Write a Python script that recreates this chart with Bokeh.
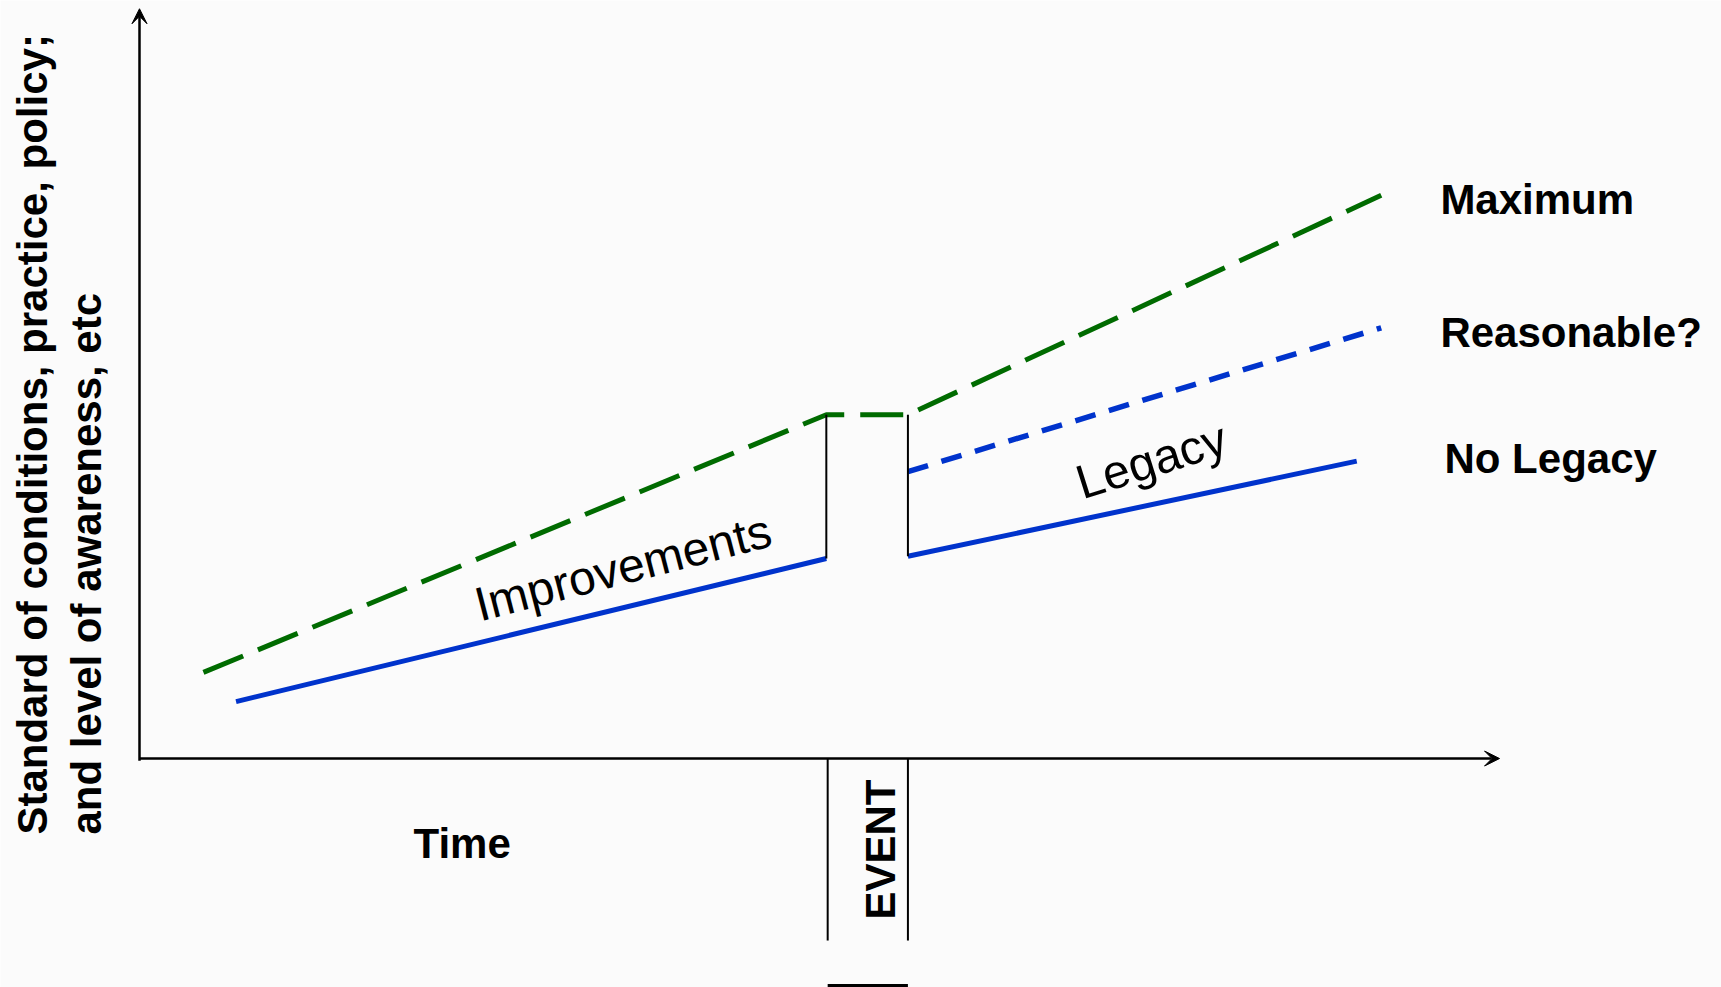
from bokeh.plotting import figure
from bokeh.models import Range1d, Arrow, VeeHead, ColumnDataSource
from bokeh.core.properties import value
from bokeh.embed import file_html
from bokeh.resources import INLINE
import math

# ---- data (Time 0..10, Level 0..10) ----
green_x = [0.47, 5.05, 5.65, 9.13]
green_y = [1.15, 4.59, 4.59, 7.52]

blue_left_x = [0.71, 5.05]
blue_left_y = [0.76, 2.67]

blue_right_x = [5.65, 8.95]
blue_right_y = [2.70, 3.97]

reason_x = [5.65, 9.13]
reason_y = [3.83, 5.75]

# drop lines at event (from green down to blue)
drop_x = [5.05, 5.65]
drop_top = [4.59, 4.59]
drop_bot = [2.67, 2.70]

# event marker below the time axis
event_x = [5.06, 5.65]
event_top = [0.0, 0.0]
event_bot = [-2.43, -2.43]
event_bar_y = [-3.03]

# axes
axis_x_start = [0.0, 0.0]
axis_y_start = [-0.03, 0.0]
axis_x_end = [0.0, 10.0]
axis_y_end = [10.01, 0.0]

end_labels = ["Maximum", "Reasonable?", "No Legacy"]
end_label_x = [9.565, 9.565, 9.595]
end_label_y = [7.463, 5.687, 4.005]

W, H = 1721, 987
BG = "#fbfbfb"

p = figure(width=W, height=H, output_backend="svg", toolbar_location=None,
           x_range=Range1d(-1.022, 11.632), y_range=Range1d(-3.057, 10.120),
           min_border=0, min_border_left=0, min_border_right=0,
           min_border_top=0, min_border_bottom=0,
           background_fill_color=BG, border_fill_color=BG)
p.xaxis.visible = False
p.yaxis.visible = False
p.grid.visible = False
p.outline_line_color = None

FONT = value("Liberation Sans")

# axes with arrow heads
axes_src = ColumnDataSource(dict(x0=axis_x_start, y0=axis_y_start, x1=axis_x_end, y1=axis_y_end))
p.add_layout(Arrow(end=VeeHead(size=15, fill_color="black", line_color="black", line_width=1),
                   x_start="x0", y_start="y0", x_end="x1", y_end="y1",
                   source=axes_src, line_color="black", line_width=2.5))

# green maximum line
p.line(green_x, green_y, line_color="#006b00", line_width=5, line_dash="43 16")

# blue no-legacy lines
p.line(blue_left_x, blue_left_y, line_color="#0033cc", line_width=5)
p.line(blue_right_x, blue_right_y, line_color="#0033cc", line_width=5)

# blue reasonable dashed line
p.line(reason_x, reason_y, line_color="#0033cc", line_width=5.5, line_dash="21 14")

# vertical drop lines
p.segment(x0=drop_x, y0=drop_top, x1=drop_x, y1=drop_bot, line_color="black", line_width=2)

# event marker
p.segment(x0=event_x, y0=event_top, x1=event_x, y1=event_bot, line_color="black", line_width=2)
p.segment(x0=[event_x[0]], y0=event_bar_y, x1=[event_x[1]], y1=event_bar_y,
          line_color="black", line_width=3)

# right-hand labels
p.text(x=end_label_x, y=end_label_y, text=end_labels, text_font=FONT,
       text_font_style="bold", text_font_size=value("42px"),
       text_align="left", text_baseline="alphabetic", text_color="black")

# Time label
p.text(x=[2.015], y=[-1.135], text=["Time"], text_font=FONT, text_font_style="bold",
       text_font_size=value("42px"), text_align="left", text_baseline="alphabetic",
       text_color="black")

# EVENT label (vertical)
p.text(x=[5.445], y=[-1.215], text=["EVENT"], text_font=FONT, text_font_style="bold",
       text_font_size=value("42px"), text_align="center", text_baseline="alphabetic",
       angle=math.pi / 2, text_color="black")

# y-axis title (two lines, vertical)
p.text(x=[-0.785, -0.39], y=[-1.015, -1.015],
       text=["Standard of conditions, practice, policy;", "and level of awareness, etc"],
       text_font=FONT, text_font_style="bold", text_font_size=value("42px"),
       text_align="left", text_baseline="alphabetic", angle=math.pi / 2, text_color="black")

# in-chart annotations
p.text(x=[3.555], y=[2.55], text=["Improvements"], text_font=FONT,
       text_font_size=value("48px"), text_align="center", text_baseline="alphabetic",
       angle=math.radians(14.5), text_color="black")
p.text(x=[7.44], y=[3.98], text=["Legacy"], text_font=FONT,
       text_font_size=value("48px"), text_align="center", text_baseline="alphabetic",
       angle=math.radians(17.5), text_color="black")

open("out.html", "w").write(file_html(p, INLINE))
